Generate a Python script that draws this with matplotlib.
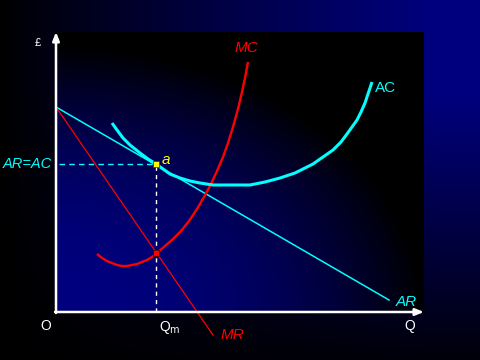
import numpy as np
import matplotlib
matplotlib.use("Agg")
import matplotlib.pyplot as plt

# ---- data (quantity, price) ----
ar_q = [0, 333]
ar_p = [205, 12]
mr_q = [0, 157]
mr_p = [205, -23]
mc_q = [41, 46, 51, 56, 61, 66, 71, 76, 81, 86, 91, 96, 101, 109, 117, 125, 133,
        141, 148, 155, 161, 167, 172, 177, 182, 186, 189, 192]
mc_p = [58, 54, 51, 49, 47, 46, 46, 47, 48, 50, 52, 55, 59, 66, 73, 81, 91,
        103, 115, 128, 141, 155, 169, 185, 203, 220, 234, 250]
ac_q = [56, 61, 67, 74, 84, 92, 100, 107, 114, 124, 134, 144, 157, 174, 194, 209,
        224, 239, 257, 267, 277, 285, 291, 296, 301, 305, 309, 312, 314, 316]
ac_p = [189, 182, 174, 167, 159, 153, 148, 143, 138, 134, 131, 129, 127, 127, 127, 130,
        134, 139, 148, 155, 162, 170, 178, 185, 192, 200, 209, 218, 224, 230]
q_m = 100
p_a = 148
mc_at_qm = 59

W, H = 480, 360
fig = plt.figure(figsize=(4.8, 3.6), dpi=100)

# ---- background ----
bg = fig.add_axes([0, 0, 1, 1])
bg.set_xlim(0, W); bg.set_ylim(H, 0); bg.axis('off')
px, py = np.meshgrid(np.arange(W) + 0.5, np.arange(H) + 0.5)
xf = np.clip(px / 440.0, 0, 1) ** 0.9
yf = np.where(py < 90, 1.0, 1.0 - 0.92 * (py - 90) / 270.0)
t = np.clip(xf * yf, 0, 1)
img = np.zeros((H, W, 3)); img[..., 2] = 0.5 * t
bg.imshow(img, extent=(0, W, H, 0), aspect='auto', interpolation='bilinear')

L, R, T, B = 56, 424, 32, 312
pw, ph = R - L, B - T
u, v = np.meshgrid(np.linspace(0, 1, pw), np.linspace(1, 0, ph))
r = np.sqrt((u / 1.0) ** 2 + (v / 0.95) ** 2)
s = np.clip(1 - r ** 2.2, 0, 1)
pimg = np.zeros((ph, pw, 3)); pimg[..., 2] = 0.5 * s
bg.imshow(pimg, extent=(L, R, B, T), aspect='auto', interpolation='bilinear')

# ---- main axes ----
ax = fig.add_axes([L / W, (H - B) / H, pw / W, ph / H])
ax.set_xlim(0, pw); ax.set_ylim(0, ph)
ax.patch.set_alpha(0)
for sp in ax.spines.values():
    sp.set_visible(False)
ax.set_xticks([]); ax.set_yticks([])

cyan = '#00ffff'; red = '#ff0000'

ax.plot(ar_q, ar_p, color=cyan, lw=1.1, clip_on=False, zorder=3)
ax.plot(mr_q, mr_p, color=red, lw=0.9, clip_on=False, zorder=3)
ax.plot(mc_q, mc_p, color=red, lw=1.7, clip_on=False, zorder=4, solid_capstyle='butt')
ax.plot(ac_q, ac_p, color=cyan, lw=2.2, clip_on=False, zorder=4, solid_capstyle='butt')

ax.plot([3, q_m], [p_a, p_a], color=cyan, lw=1.0, ls=(0, (4, 3)), zorder=2)
ax.plot([q_m, q_m], [0, p_a], color='white', lw=1.0, ls=(0, (3, 3)), zorder=2)

ax.plot([q_m], [p_a], marker='s', ms=4.5, color='#ffff00', mec='#333300', mew=0.5, zorder=6, clip_on=False)
ax.plot([q_m], [mc_at_qm], marker='s', ms=4.5, color=red, mec='#330000', mew=0.5, zorder=6, clip_on=False)

# axes with arrows
ax.annotate('', xy=(0, 280), xytext=(0, -1), xycoords='data',
            arrowprops=dict(arrowstyle='-|>,head_length=0.5,head_width=0.2', color='white', lw=1.8,
                            shrinkA=0, shrinkB=0), annotation_clip=False, zorder=7)
ax.annotate('', xy=(368, 0), xytext=(-1, 0), xycoords='data',
            arrowprops=dict(arrowstyle='-|>,head_length=0.5,head_width=0.2', color='white', lw=1.8,
                            shrinkA=0, shrinkB=0), annotation_clip=False, zorder=7)

fam = ['Liberation Sans', 'DejaVu Sans']
def txt(x, y, s, color, size=11, style='normal', ha='center', va='center'):
    ax.text(x, y, s, color=color, fontsize=size, fontstyle=style, ha=ha, va=va,
            family=fam, clip_on=False, zorder=8)

txt(-18, 269, '£', 'white', size=8)
txt(-4, 148, 'AR=AC', cyan, size=10.5, style='italic', ha='right')
txt(110, 152, 'a', '#ffff00', size=11, style='italic')
txt(190, 264, 'MC', red, size=11, style='italic')
txt(330, 224, 'AC', cyan, size=11)
txt(350, 10, 'AR', cyan, size=11, style='italic')
txt(176, -23, 'MR', red, size=11, style='italic')
txt(-10, -14, 'O', 'white', size=10)
txt(114, -15, r'Q$_{\mathrm{m}}$', 'white', size=10)
txt(354, -14, 'Q', 'white', size=10)

fig.savefig('out.png', dpi=100)
